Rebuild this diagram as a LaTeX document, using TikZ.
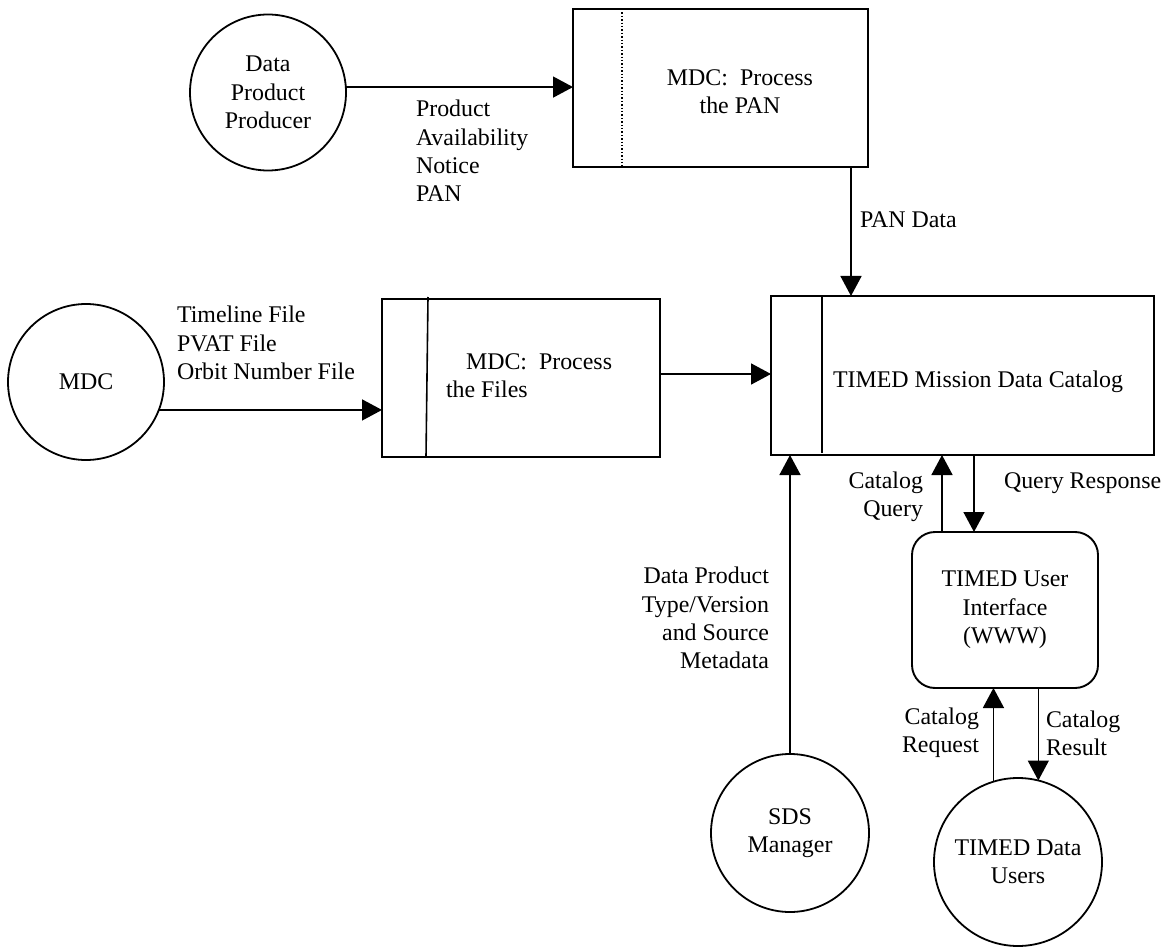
\documentclass[tikz,border=0pt]{standalone}
\usepackage{fontspec}
\setmainfont{Liberation Serif}
\usetikzlibrary{arrows.meta,calc}
\begin{document}
\begin{tikzpicture}[x=1pt,y=-1pt,
  every node/.style={font=\fontsize{23.9}{28.3}\selectfont, inner sep=0pt, outer sep=0pt},
  ent/.style={draw, circle, line width=1.8pt},
  proc/.style={draw, rectangle, line width=1.9pt},
  arr/.style={line width=1.6pt, -{Triangle[length=20pt,width=21pt]}},
  divider/.style={line width=1.6pt}
]
\useasboundingbox (0,0) rectangle (1165,952);

% external entities
\node[ent, minimum size=156pt, align=center] (dpp) at (268,92.5) {Data\\Product\\Producer};
\node[ent, minimum size=156pt] (mdc) at (86,382) {MDC};
\node[ent, minimum size=158pt, align=center] (sds) at (790,833) {SDS\\Manager};
\node[ent, minimum size=168pt, align=center] (users) at (1018,862) {TIMED Data\\Users};

% process the PAN
\node[proc, minimum width=295pt, minimum height=158pt] (pan) at (720.5,88) {};
\draw[dotted, line width=1.4pt] ([xshift=49pt]pan.north west) -- ([xshift=49pt]pan.south west);
\node[align=center] (pantext) at (740,92) {MDC:\ \ Process\\the PAN};

% process the files
\node[proc, minimum width=278pt, minimum height=158pt] (files) at (521,378) {};
\draw[divider] ([xshift=46pt,yshift=2pt]files.north west) -- ([xshift=44pt]files.south west);
\node[align=left, anchor=west] (filestext) at (446,376) {\hspace*{20pt}MDC:\ \ Process\\the Files};

% catalog
\node[proc, minimum width=383pt, minimum height=159pt] (cat) at (962.5,375.5) {};
\draw[divider] ([xshift=51pt]cat.north west) -- ([xshift=51pt,yshift=2pt]cat.south west);
\node[anchor=west] (cattext) at (833,382) {TIMED Mission Data Catalog};

% user interface
\node[proc, rounded corners=23pt, minimum width=186pt, minimum height=156pt, align=center] (ui) at (1005,610) {TIMED User\\Interface\\(WWW)};

% connectors
\draw[arr] (dpp.4) -- (dpp.4 -| pan.west);
\draw[arr] ([xshift=-17pt]pan.south east) -- ([xshift=-17pt]pan.south east |- cat.north);
\draw[arr] (mdc.-21) -- (mdc.-21 -| files.west);
\draw[arr] ([yshift=4pt]files.east) -- ([yshift=4pt]files.east -| cat.west);
\draw[arr] (sds.north) -- (sds.north |- cat.south);
\draw[arr] ([xshift=-63pt]ui.north) -- ([xshift=-63pt]ui.north |- cat.south);
\draw[arr] ([xshift=-31pt]ui.north |- cat.south) -- ([xshift=-31pt]ui.north);
\draw[arr] (users.107.5) -- (users.107.5 |- ui.south);
\draw[arr] (users.76 |- ui.south) -- (users.76);

% labels
\node[align=left, anchor=west] (lpan) at (416,151) {Product\\Availability\\Notice\\PAN};
\node[align=left, anchor=west] (lfiles) at (177,343) {Timeline File\\PVAT File\\Orbit Number File};
\node[anchor=west] (lpandata) at (860,220) {PAN Data};
\node[align=right, anchor=east] (lquery) at (923,497) {Catalog\\Query};
\node[anchor=west] (lresp) at (1004,483) {Query Response};
\node[align=right, anchor=east] (lmeta) at (769,618) {Data Product\\Type/Version\\and Source\\Metadata};
\node[align=right, anchor=east] (lreq) at (979,733) {Catalog\\Request};
\node[align=left, anchor=west] (lres) at (1046,733) {Catalog\\Result};
\end{tikzpicture}
\end{document}
